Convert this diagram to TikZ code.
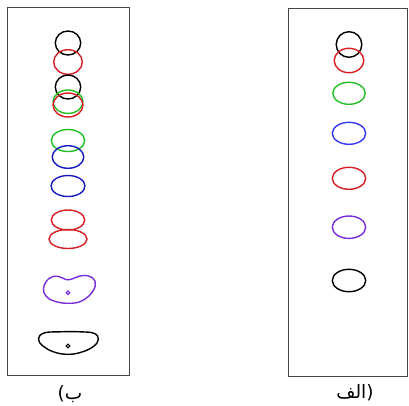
\documentclass[tikz,border=0pt]{standalone}
\usepackage{fontspec}
\newfontfamily\arabicfont[Script=Arabic]{DejaVu Sans}
\newfontfamily\parfont{DejaVu Sans}
\definecolor{cred}{RGB}{215,30,35}
\definecolor{cgreen}{RGB}{35,190,35}
\definecolor{cblueL}{RGB}{25,25,190}
\definecolor{cblueR}{RGB}{55,55,240}
\definecolor{cpurp}{RGB}{120,45,220}
\definecolor{cframe}{RGB}{70,70,70}
\tikzset{
  frame/.style={draw=cframe, line width=0.9pt, fill=white},
  curve/.style={line width=1.4pt},
  lbl/.style={font=\fontsize{18.5}{21}\selectfont, inner sep=0pt}
}
\begin{document}
\begin{tikzpicture}[x=1pt,y=-1pt]
\useasboundingbox (0,0) rectangle (409,405);
\fill[white] (0,0) rectangle (409,405);
% frames
\draw[frame] (7,7) rectangle (129,375);
\draw[frame] (288,8) rectangle (407.5,376);
% left column
\draw[curve,black] (68,43) ellipse [x radius=12.7, y radius=12];
\draw[curve,cred] (68,62) ellipse [x radius=14.3, y radius=12.3];
\draw[curve,black] (68,87) ellipse [x radius=12.7, y radius=12];
\draw[curve,cgreen] (68,101.7) ellipse [x radius=15, y radius=11.7];
\draw[curve,cred] (68,105) ellipse [x radius=15, y radius=12];
\draw[curve,cgreen] (68,140.5) ellipse [x radius=16.7, y radius=11];
\draw[curve,cblueL] (68,157) ellipse [x radius=15.8, y radius=11.3];
\draw[curve,cblueL] (68,186) ellipse [x radius=17, y radius=10.5];
\draw[curve,cred] (68,220) ellipse [x radius=16.7, y radius=10];
\draw[curve,cred] (68,239) ellipse [x radius=19, y radius=9.5];
\draw[curve,cpurp] plot[smooth cycle, tension=0.7] coordinates {
  (43.5,288) (49,278.5) (58,276.3) (68,279.8) (79,276.3) (88,275.8) (95,281)
  (93,291) (82,300.8) (68,303.3) (54,301) (46,296)};
\draw[cpurp, line width=1.1pt] (68,292.7) circle [radius=1.8];
\draw[curve,black] plot[smooth cycle, tension=0.7] coordinates {
  (38.5,339) (44,333) (60,331.8) (80,331.8) (94,333.3) (98.3,339)
  (94,346) (82,352) (68,354.3) (54,352) (43,346)};
\draw[black, line width=1.1pt] (68,346) circle [radius=1.8];
% right column
\draw[curve,black] (349,44.5) ellipse [x radius=12.8, y radius=12.8];
\draw[curve,cred] (349,60.5) ellipse [x radius=14.8, y radius=12.2];
\draw[curve,cgreen] (349,93.3) ellipse [x radius=16.2, y radius=11];
\draw[curve,cblueR] (349,133.3) ellipse [x radius=16.7, y radius=11];
\draw[curve,cred] (349,178.3) ellipse [x radius=16.7, y radius=11];
\draw[curve,cpurp] (349,227.2) ellipse [x radius=16.7, y radius=11.2];
\draw[curve,black] (349,280.5) ellipse [x radius=16.7, y radius=11.2];
% labels
\node[lbl] (lb) at (70,394) {{\parfont(}{\arabicfont ب}};
\node[lbl] (la) at (355,393) {{\arabicfont الف}{\parfont)}};
\end{tikzpicture}
\end{document}
